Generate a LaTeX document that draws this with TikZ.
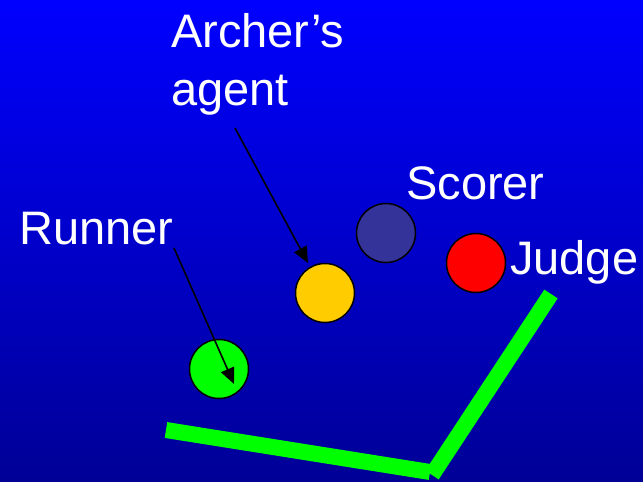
\documentclass[tikz,border=0pt]{standalone}
\usepackage{fontspec}
\setmainfont{Liberation Sans}
\usetikzlibrary{arrows.meta}
\definecolor{topblue}{RGB}{0,0,255}
\definecolor{lowblue}{RGB}{0,0,150}
\definecolor{ballyellow}{RGB}{255,204,0}
\definecolor{ballnavy}{RGB}{51,51,153}

\begin{document}
\begin{tikzpicture}
  [x=1pt,y=-1pt,
   ball/.style={circle,draw=black,line width=1.5pt,minimum size=59pt,inner sep=0pt},
   label/.style={text=white,anchor=base west,inner sep=0pt,font=\fontsize{47}{56}\selectfont},
   pointer/.style={line width=1.6pt,-{Triangle[length=16pt,width=14pt]}},
   bar/.style={draw=green,line width=16pt}]
  \useasboundingbox (0,0) rectangle (643,482);
  \shade[top color=topblue,bottom color=lowblue] (0,0) rectangle (643,482);

  \node[ball,fill=green]      (runner) at (219,369) {};
  \node[ball,fill=ballyellow] (agent)  at (325,293) {};
  \node[ball,fill=ballnavy]   (scorer) at (386,233) {};
  \node[ball,fill=red]        (judge)  at (476,263) {};

  \node[label] (archerline) at (171,47)  {Archer’s};
  \node[label] (agentline)  at (171,105) {agent};
  \node[label] (scorerline) at (406,199) {Scorer};
  \node[label] (runnerline) at (19,244)  {Runner};
  \node[label] (judgeline)  at (510,274) {Judge};

  \coordinate (agenttail)  at (235,128);
  \coordinate (agenttip)   at (308,263);
  \coordinate (runnertail) at (174,248);
  \coordinate (runnertip)  at (234,384);

  \foreach \from/\to in {agenttail/agenttip,runnertail/runnertip}
    \draw[pointer] (\from) -- (\to);

  \coordinate (barleft)   at (166,430);
  \coordinate (barcorner) at (430,472);
  \coordinate (barfoot)   at (432,475);
  \coordinate (bartop)    at (551,294);
  \draw[bar] (barleft) -- (barcorner);
  \draw[bar] (barfoot) -- (bartop);

\end{tikzpicture}
\end{document}
